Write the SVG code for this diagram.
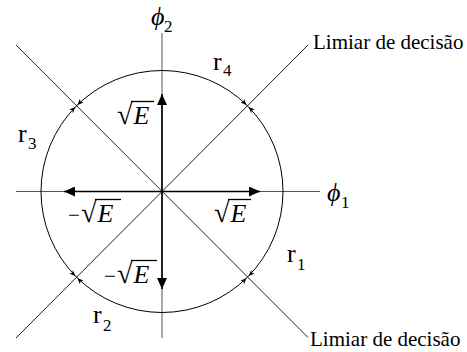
<svg xmlns="http://www.w3.org/2000/svg" width="467" height="352" viewBox="0 0 467 352">
<style>
text{font-family:"Liberation Serif","Times New Roman",serif;fill:#000}
.lbl{font-size:21px}
.r{font-size:26px}
.sub{font-size:17px}
.phi{font-size:26px;font-style:italic}
.e{font-size:26px;font-style:italic}
.rad{font-size:28px}
.minus{font-size:21px}
.axis{stroke:#555;stroke-width:1;fill:none}
.diag{stroke:#222;stroke-width:1;fill:none}
.vec{stroke:#000;stroke-width:1.6;fill:none;marker-end:url(#ah)}
.vin{stroke:#000;stroke-width:1.3}
</style>
<defs>
<marker id="ah" markerUnits="userSpaceOnUse" markerWidth="12" markerHeight="10" refX="11" refY="5" orient="auto">
<path d="M0,0 L11,5 L0,10 Z" fill="#000"/>
</marker>
<path id="tk" d="M0,0 L-6,-2.6 L-4.3,0 L-6,2.6 Z" fill="#000"/>
</defs>
<rect width="467" height="352" fill="#fff"/>
<g id="axes">
<line class="axis" x1="16" y1="191.5" x2="320" y2="191.5"/>
<line class="axis" x1="162" y1="33" x2="162" y2="338"/>
</g>
<g id="thresholds">
<line class="diag" x1="16" y1="45" x2="308" y2="337.5"/>
<line class="diag" x1="16" y1="338" x2="308" y2="45"/>
</g>
<g id="circle">
<circle cx="162" cy="191.5" r="121" fill="none" stroke="#000" stroke-width="1"/>
<use href="#tk" transform="translate(246.5,104.9) rotate(45)"/>
<use href="#tk" transform="translate(248.7,107.1) rotate(-135)"/>
<use href="#tk" transform="translate(75.3,107.1) rotate(-45)"/>
<use href="#tk" transform="translate(77.5,104.9) rotate(135)"/>
<use href="#tk" transform="translate(77.5,278.2) rotate(225)"/>
<use href="#tk" transform="translate(75.3,276.0) rotate(45)"/>
<use href="#tk" transform="translate(248.7,276.0) rotate(135)"/>
<use href="#tk" transform="translate(246.5,278.2) rotate(-45)"/>
</g>
<g id="vectors">
<line class="vec" x1="162" y1="191.5" x2="260" y2="191.5"/>
<line class="vec" x1="162" y1="191.5" x2="64" y2="191.5"/>
<line class="vec" x1="162" y1="191.5" x2="162" y2="94"/>
<line class="vec" x1="162" y1="191.5" x2="162" y2="289"/>
</g>
<g id="axis-labels">
<text class="phi" x="151" y="25">ϕ</text><text class="sub" x="164" y="32">2</text>
<text class="phi" x="327" y="201">ϕ</text><text class="sub" x="341" y="208">1</text>
</g>
<g id="region-labels">
<text class="r" x="213" y="70">r</text><text class="sub" x="223" y="76">4</text>
<text class="r" x="18" y="142">r</text><text class="sub" x="28" y="149">3</text>
<text class="r" x="287" y="262">r</text><text class="sub" x="297" y="270">1</text>
<text class="r" x="93" y="323">r</text><text class="sub" x="103" y="331">2</text>
</g>
<g id="vector-labels">
<text x="117" y="124"><tspan class="rad">√</tspan><tspan class="e" dx="1">E</tspan></text>
<line class="vin" x1="131" y1="101.5" x2="154" y2="101.5"/>
<text x="214" y="222"><tspan class="rad">√</tspan><tspan class="e" dx="1">E</tspan></text>
<line class="vin" x1="228" y1="199.5" x2="251" y2="199.5"/>
<text x="68" y="222"><tspan class="minus">−</tspan><tspan class="rad" x="81">√</tspan><tspan class="e" dx="1">E</tspan></text>
<line class="vin" x1="95" y1="199.5" x2="121" y2="199.5"/>
<text x="104" y="283"><tspan class="minus">−</tspan><tspan class="rad" x="117">√</tspan><tspan class="e" dx="1">E</tspan></text>
<line class="vin" x1="131" y1="260.5" x2="157" y2="260.5"/>
</g>
<g id="threshold-labels">
<text class="lbl" x="313" y="49">Limiar de decisão</text>
<text class="lbl" x="310" y="346">Limiar de decisão</text>
</g>
</svg>
